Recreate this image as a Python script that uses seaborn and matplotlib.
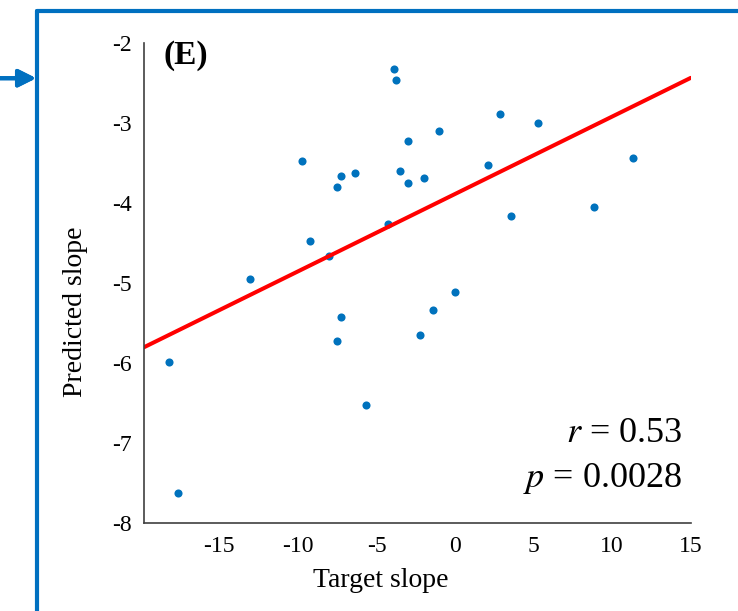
import numpy as np
import pandas as pd
import seaborn as sns
import matplotlib.pyplot as plt
from matplotlib.lines import Line2D


# values
target_slope = [-3.90, -3.75, -9.76, 2.83, 5.26, -2.98, -1.00, -6.37, -7.24, -7.50,
                -3.53, -2.98, -2.00, 2.11, 11.31, 3.53, 8.84, -4.24, -9.20, -8.01,
                -13.05, 0.00, -1.42, -7.24, -2.26, -7.50, -18.23, -5.64, -17.65]
predicted_slope = [-2.33, -2.47, -3.48, -2.89, -3.00, -3.23, -3.10, -3.63, -3.67, -3.80,
                   -3.60, -3.75, -3.69, -3.53, -3.44, -4.17, -4.05, -4.27, -4.48, -4.67,
                   -4.95, -5.11, -5.34, -5.42, -5.65, -5.72, -5.99, -6.53, -7.62]
x_ticks = [-15, -10, -5, 0, 5, 10, 15]
y_ticks = [-8, -7, -6, -5, -4, -3, -2]
panel_label = "(E)"
r_text = "$r$ = 0.53"
p_text = "$p$ = 0.0028"

df = pd.DataFrame({"Target slope": target_slope, "Predicted slope": predicted_slope})

sns.set_style("white")
plt.rcParams["font.family"] = ["Liberation Serif", "DejaVu Serif"]
plt.rcParams["mathtext.fontset"] = "stix"
plt.rcParams["text.color"] = "black"
plt.rcParams["axes.labelcolor"] = "black"
plt.rcParams["xtick.color"] = "black"
plt.rcParams["ytick.color"] = "black"

fig = plt.figure(figsize=(7.38, 6.11), dpi=100)
ax = fig.add_axes([0.195, 0.144, 0.741, 0.786])

ax.set_xlim(-19.8, 15)
ax.set_ylim(-8, -2)
sns.regplot(data=df, x="Target slope", y="Predicted slope", ax=ax, ci=None, truncate=False,
            scatter_kws={"s": 34, "color": "#0072BD", "linewidths": 0, "alpha": 1},
            line_kws={"color": "#FF0000", "lw": 2.9})
ax.set_xlim(-19.8, 15)
ax.set_ylim(-8, -2)

ax.set_xticks(x_ticks)
ax.set_yticks(y_ticks)
ax.set_xticklabels([str(t) for t in x_ticks])
ax.set_yticklabels([str(t) for t in y_ticks])
ax.tick_params(direction="in", length=5, width=1, color="#404040", labelsize=17,
               labelcolor="black")
ax.tick_params(axis="x", pad=9)
ax.tick_params(axis="y", pad=9)

for side in ["top", "right"]:
    ax.spines[side].set_visible(False)
for side in ["left", "bottom"]:
    ax.spines[side].set_color("#404040")
    ax.spines[side].set_linewidth(1.2)

ax.set_xlabel("Target slope", fontsize=20, color="black")
ax.set_ylabel("Predicted slope", fontsize=20, color="black")
ax.xaxis.set_label_coords(0.433, -0.119)
ax.yaxis.set_label_coords(-0.126, 0.44)
ax.xaxis.label.set_va("center")
ax.yaxis.label.set_va("center")

ax.text(0.035, 1.006, panel_label, transform=ax.transAxes, fontsize=24,
        fontweight="bold", ha="left", va="top", color="black")
ax.text(0.985, 0.169, r_text, transform=ax.transAxes, fontsize=26,
        ha="right", va="baseline", color="black")
ax.text(0.985, 0.074, p_text, transform=ax.transAxes, fontsize=26,
        ha="right", va="baseline", color="black")

# blue panel frame and arrow
blue = "#0070C0"
fig.add_artist(Line2D([0.05, 1.0], [0.982, 0.982], transform=fig.transFigure,
                      color=blue, lw=3))
fig.add_artist(Line2D([0.05, 0.05], [0.0, 0.982], transform=fig.transFigure,
                      color=blue, lw=3))
fig.add_artist(plt.annotate("", xy=(0.049, 0.872), xytext=(0.0, 0.872),
                            xycoords="figure fraction", textcoords="figure fraction",
                            arrowprops=dict(arrowstyle="-|>", color=blue, lw=3,
                                            mutation_scale=26, shrinkA=0, shrinkB=0)))

fig.savefig("out.png", dpi=100)
